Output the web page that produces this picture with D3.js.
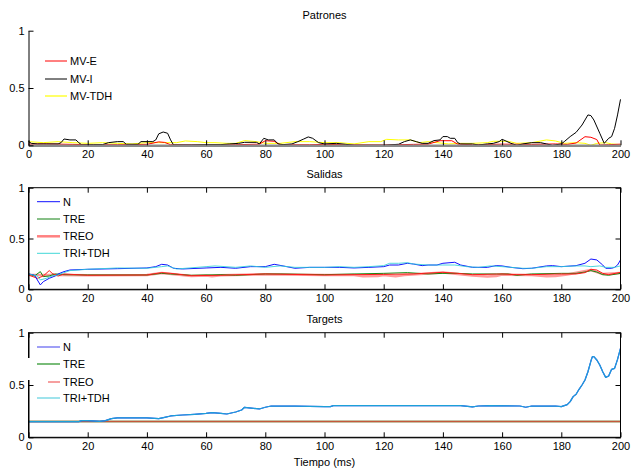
<!DOCTYPE html>
<html>
<head>
<meta charset="utf-8">
<script src="https://cdn.jsdelivr.net/npm/d3@7"></script>
<style>
  body { margin: 0; background: #fff; }
  text { font-family: Arial, "Liberation Sans", sans-serif; font-size: 11px; fill: #000; }
</style>
</head>
<body>
<svg id="chart" width="632" height="468"></svg>
<script>
////////////////////////////////////////////////////////////////////////
// Data, [tiempo (ms), valor]

let xTicks = [0, 20, 40, 60, 80, 100, 120, 140, 160, 180, 200];
let yTicks = [0, 0.5, 1];

// Patrones
let mvE = [[0,0.01],[5,0.012],[10,0.01],[15,0.008],[20,0.005],[30,0.005],[40,0.008],[44,0.03],[46,0.025],
  [48,0.005],[60,0.003],[70,0.005],[78,0.01],[80,0.04],[83,0.035],[85,0.005],[95,0.005],[100,0.008],
  [110,0.004],[120,0.003],[130,0.008],[135,0.01],[139,0.04],[143,0.04],[145,0.01],[150,0.005],[160,0.01],
  [170,0.008],[178,0.012],[182,0.008],[185,0.02],[188,0.075],[190,0.07],[192,0.05],[193,0.002],[196,0.005],[200,0.01]];

let mvI = [[0,0.032],[1,0.017],[3,0.012],[6,0.012],[10,0.012],[11,0.023],[12,0.055],[14,0.047],[16,0.047],
  [17,0.023],[18,0.003],[22,0.006],[25,0.006],[27,0.023],[30,0.032],[32,0.032],[33,0.009],[37,0.009],
  [38,0.032],[42,0.032],[43,0.047],[44,0.1],[45.5,0.116],[47,0.105],[48,0.047],[49,0.003],[55,0.003],
  [60,0.006],[65,0.006],[68,0.012],[71,0.017],[73,0.026],[77,0.026],[78,0.012],[79.5,0.061],[81,0.047],
  [83,0.047],[84.3,0.012],[86,0.006],[89,0.012],[91,0.032],[93,0.055],[94.5,0.073],[96,0.061],[98,0.023],
  [100,0.012],[104,0.017],[107,0.009],[110,0],[115,0],[120,0],[125,0.009],[127,0.032],[129,0.047],
  [131,0.032],[133,0.017],[135,0.017],[137,0.041],[139,0.047],[140,0.076],[141.5,0.076],[142.5,0.061],
  [144,0.061],[145,0.023],[146,0.012],[150,0.012],[152,0.003],[155,0.012],[157,0.017],[159,0.032],
  [160,0.052],[161,0.041],[163,0.017],[165,0],[167,0.012],[170,0.023],[173,0.023],[175,0.012],[177,0],
  [180,0.012],[181,0.032],[183,0.076],[185,0.113],[187,0.177],[189,0.265],[190,0.259],[191,0.221],
  [193,0.105],[194.5,0.017],[196,0.061],[197,0.076],[198,0.148],[199,0.265],[200,0.401]];

let mvTDH = [[0,0.032],[5,0.023],[10,0.032],[15,0.023],[20,0.017],[25,0.023],[30,0.017],[35,0.012],[40,0.023],
  [45,0.023],[50,0.023],[53,0.038],[57,0.032],[60,0.023],[63,0.023],[67,0.017],[70,0.017],[73,0.041],
  [77,0.032],[80,0.017],[85,0.017],[90,0.032],[95,0.032],[100,0.023],[105,0.023],[110,0.012],[115,0.032],
  [119,0.032],[121,0.052],[125,0.047],[129,0.047],[132,0.023],[135,0.032],[138,0.023],[142,0.012],
  [146,0.017],[150,0.017],[155,0.023],[157,0.035],[162,0.035],[165,0.017],[170,0.023],[175,0.047],
  [178,0.038],[181,0.017],[185,0.023],[188,0.017],[190,0],[192,0.017],[195,0.023],[197,0.012],[200,0.006]];

// Salidas
let salN = [[0,0.151],[2,0.141],[4,0.043],[5,0.075],[7,0.108],[9,0.131],[10,0.151],[12,0.174],[14,0.19],
  [20,0.197],[30,0.203],[40,0.21],[43,0.223],[45,0.246],[47,0.239],[49,0.207],[52,0.2],[60,0.21],[65,0.216],
  [70,0.207],[75,0.223],[80,0.223],[83,0.246],[86,0.23],[90,0.207],[95,0.216],[100,0.216],[105,0.216],
  [110,0.21],[115,0.216],[120,0.223],[122,0.239],[125,0.239],[128,0.256],[130,0.249],[133,0.233],
  [135,0.239],[138,0.239],[140,0.256],[144,0.266],[146,0.239],[150,0.216],[155,0.216],[158,0.233],
  [160,0.23],[163,0.216],[167,0.203],[170,0.207],[175,0.23],[177,0.233],[180,0.223],[185,0.233],
  [188,0.256],[190,0.298],[192,0.289],[194,0.239],[195,0.207],[197,0.207],[198,0.216],[199,0.239],[200,0.289]];

let salTRE = [[0,0.151],[2,0.131],[4,0.174],[5,0.125],[7,0.131],[9,0.151],[12,0.144],[20,0.141],[40,0.141],
  [45,0.157],[48,0.151],[55,0.138],[65,0.144],[70,0.138],[80,0.151],[85,0.151],[100,0.144],[110,0.151],
  [120,0.157],[128,0.164],[135,0.151],[140,0.157],[145,0.157],[150,0.151],[158,0.151],[162,0.151],
  [165,0.138],[170,0.151],[180,0.157],[185,0.157],[188,0.17],[190,0.184],[192,0.17],[194,0.144],
  [196,0.138],[200,0.157]];

let salTREO = [[0,0.141],[10,0.14],[20,0.138],[40,0.14],[45,0.16],[50,0.145],[55,0.13],[60,0.135],[62,0.128],
  [65,0.138],[80,0.148],[100,0.14],[110,0.14],[113,0.128],[118,0.13],[120,0.14],[124,0.128],[127,0.14],
  [140,0.165],[145,0.15],[150,0.135],[155,0.125],[158,0.13],[160,0.145],[170,0.14],[175,0.128],
  [178,0.13],[182,0.145],[190,0.19],[194,0.15],[200,0.16]];

let salRojo = [[0,0.141],[3,0.108],[5,0.131],[7,0.184],[8,0.157],[10,0.131],[12,0.151],[20,0.138],[40,0.141],
  [45,0.164],[48,0.157],[55,0.134],[65,0.138],[80,0.151],[100,0.141],[110,0.144],[120,0.147],[130,0.151],
  [140,0.167],[145,0.157],[150,0.144],[160,0.151],[165,0.144],[170,0.144],[180,0.151],[185,0.151],
  [188,0.164],[190,0.197],[192,0.19],[194,0.157],[196,0.144],[200,0.167]];

let salTRI = [[0,0.151],[3,0.131],[4,0.092],[6,0.108],[8,0.131],[10,0.141],[12,0.164],[14,0.184],[20,0.197],
  [30,0.21],[40,0.207],[45,0.223],[47,0.23],[50,0.2],[60,0.223],[63,0.23],[70,0.216],[75,0.23],[80,0.216],
  [85,0.23],[90,0.216],[100,0.216],[105,0.223],[110,0.216],[115,0.223],[120,0.233],[122,0.256],
  [125,0.256],[128,0.262],[130,0.249],[135,0.239],[140,0.239],[144,0.239],[148,0.223],[152,0.216],
  [156,0.23],[160,0.223],[163,0.216],[167,0.207],[170,0.207],[175,0.223],[180,0.223],[185,0.23],
  [188,0.23],[190,0.223],[193,0.23],[195,0.216],[198,0.216],[200,0.23]];

// Targets
let tgtTRE = [[0,0.15],[200,0.15]];
let tgtTREO = [[0,0.15],[200,0.15]];
let tgtTRI = [[0,0.15],[17,0.15],[18,0.159],[20,0.159],[24,0.153],[26,0.159],[28,0.178],[30,0.185],[40,0.185],
  [44,0.178],[46,0.191],[48,0.204],[52,0.213],[56,0.22],[60,0.229],[62,0.236],[65,0.229],[67,0.223],
  [70,0.242],[72,0.261],[73,0.287],[76,0.277],[78,0.271],[80,0.287],[82,0.299],[90,0.299],[100,0.293],
  [102,0.293],[103,0.303],[146,0.303],[150,0.29],[152,0.299],[156,0.303],[166,0.299],[168,0.287],
  [170,0.299],[178,0.299],[180,0.293],[182,0.312],[183,0.341],[184,0.389],[185,0.411],[186,0.459],
  [187,0.5],[188,0.548],[189,0.627],[190,0.729],[190.5,0.771],[191,0.771],[192,0.739],[193,0.691],
  [194,0.627],[195,0.573],[196,0.586],[197,0.65],[198,0.659],[199,0.745],[200,0.85]];
let tgtN = tgtTRI;

////////////////////////////////////////////////////////////////////////
// Layout

let svg = d3.select("#chart");
let xScale = d3.scaleLinear().domain([0, 200]).range([28.5, 620.5]);

let panels = [
  { title: "Patrones", top: 30.7, bottom: 145.3, titleY: 19, box: false,
    series: [
      { data: mvTDH, color: "#ffff00", w: 1 },
      { data: mvE, color: "#ff0000", w: 1 },
      { data: mvI, color: "#000000", w: 1 }
    ],
    legend: { x0: 45, x1: 67, items: [
      { label: "MV-E", color: "#ff0000", w: 1, y: 61 },
      { label: "MV-I", color: "#000000", w: 1, y: 79 },
      { label: "MV-TDH", color: "#ffff00", w: 1.2, y: 96 }
    ]}
  },
  { title: "Salidas", top: 187.7, bottom: 289.3, titleY: 178, box: true,
    series: [
      { data: salTREO, color: "#ff9a9a", w: 2.5 },
      { data: salTRE, color: "#108a10", w: 1 },
      { data: salRojo, color: "#ff1a1a", w: 1 },
      { data: salN, color: "#1010ff", w: 1 },
      { data: salTRI, color: "#30d0d8", w: 1, op: 0.85 }
    ],
    legend: { x0: 37, x1: 60, items: [
      { label: "N", color: "#1010ff", w: 1, y: 201.7 },
      { label: "TRE", color: "#108010", w: 1, y: 219 },
      { label: "TREO", color: "#ff8080", w: 2.5, y: 236.3 },
      { label: "TRI+TDH", color: "#40d8d8", w: 1, y: 253.3 }
    ]}
  },
  { title: "Targets", top: 332.7, bottom: 437.3, titleY: 323, box: true,
    series: [
      { data: tgtTRE, color: "#2a8a2a", w: 1.5 },
      { data: tgtTREO, color: "#c4583a", w: 1.5 },
      { data: tgtN, color: "#3838f0", w: 1.2 },
      { data: tgtTRI, color: "#1ca0d8", w: 1.2 }
    ],
    legend: { x0: 37, x1: 60, bg: true, items: [
      { label: "N", color: "#6060f0", w: 1.2, y: 347 },
      { label: "TRE", color: "#209020", w: 1.2, y: 364 },
      { label: "TREO", color: "#f06060", w: 1.2, y: 382, x0: 48 },
      { label: "TRI+TDH", color: "#60d0e0", w: 1.2, y: 398 }
    ]}
  }
];

panels.forEach(function(p) {
  let yScale = d3.scaleLinear().domain([0, 1]).range([p.bottom, p.top]);
  let g = svg.append("g");

  let line = d3.line()
    .x(d => xScale(d[0]))
    .y(d => yScale(d[1]));

  // series
  g.append("g")
    .selectAll("path")
    .data(p.series)
    .enter()
    .append("path")
    .attr("d", d => line(d.data))
    .attr("fill", "none")
    .attr("stroke", d => d.color)
    .attr("stroke-width", d => d.w)
    .attr("stroke-opacity", d => d.op || 1)
    .attr("stroke-linejoin", "round");

  // axes, ticks pointing inwards
  let xAxis = d3.axisBottom(xScale).tickValues(xTicks).tickSizeInner(-5).tickSizeOuter(0).tickPadding(5);
  let yAxis = d3.axisLeft(yScale).tickValues(yTicks).tickFormat(d3.format("~g")).tickSizeInner(-5).tickSizeOuter(0).tickPadding(4);

  let gx = g.append("g")
    .attr("transform", `translate(0,${p.bottom})`)
    .call(xAxis);
  let gy = g.append("g")
    .attr("transform", `translate(${xScale(0)},0)`)
    .call(yAxis);
  [gx, gy].forEach(a => {
    a.selectAll("text").style("font-size", "11px").style("font-family", "Arial, 'Liberation Sans', sans-serif");
    a.selectAll(".tick line").attr("stroke", "#000");
  });

  if (p.box) {
    g.append("g")
      .attr("transform", `translate(0,${p.top})`)
      .call(d3.axisTop(xScale).tickValues(xTicks).tickSizeInner(-5).tickSizeOuter(0).tickFormat(""))
      .select(".domain").remove();
    g.append("g")
      .attr("transform", `translate(${xScale(200)},0)`)
      .call(d3.axisRight(yScale).tickValues(yTicks).tickSizeInner(-5).tickSizeOuter(0).tickFormat(""))
      .select(".domain").remove();
    g.append("rect")
      .attr("x", xScale(0)).attr("y", p.top)
      .attr("width", xScale(200) - xScale(0))
      .attr("height", p.bottom - p.top)
      .attr("fill", "none")
      .attr("stroke", "#000");
  } else {
    // no box: bottom line shows greyish
    gx.select(".domain").attr("stroke", "#8a8a8a").attr("stroke-width", 2.5);
  }

  // title
  svg.append("text")
    .attr("x", (xScale(0) + xScale(200)) / 2)
    .attr("y", p.titleY)
    .attr("text-anchor", "middle")
    .text(p.title);

  // legend
  let lg = svg.append("g");
  if (p.legend.bg) {
    lg.append("rect")
      .attr("x", 25).attr("y", 358)
      .attr("width", 10).attr("height", 22)
      .attr("fill", "#fff");
  }
  let items = lg.selectAll("g")
    .data(p.legend.items)
    .enter()
    .append("g");
  items.append("line")
    .attr("x1", d => d.x0 || p.legend.x0)
    .attr("x2", p.legend.x1)
    .attr("y1", d => d.y)
    .attr("y2", d => d.y)
    .attr("stroke", d => d.color)
    .attr("stroke-width", d => d.w);
  items.append("text")
    .attr("x", p.legend.x1 + 3)
    .attr("y", d => d.y)
    .attr("dy", "0.35em")
    .text(d => d.label);
});

// x label
svg.append("text")
  .attr("x", (xScale(0) + xScale(200)) / 2)
  .attr("y", 466)
  .attr("text-anchor", "middle")
  .text("Tiempo (ms)");
</script>
</body>
</html>
